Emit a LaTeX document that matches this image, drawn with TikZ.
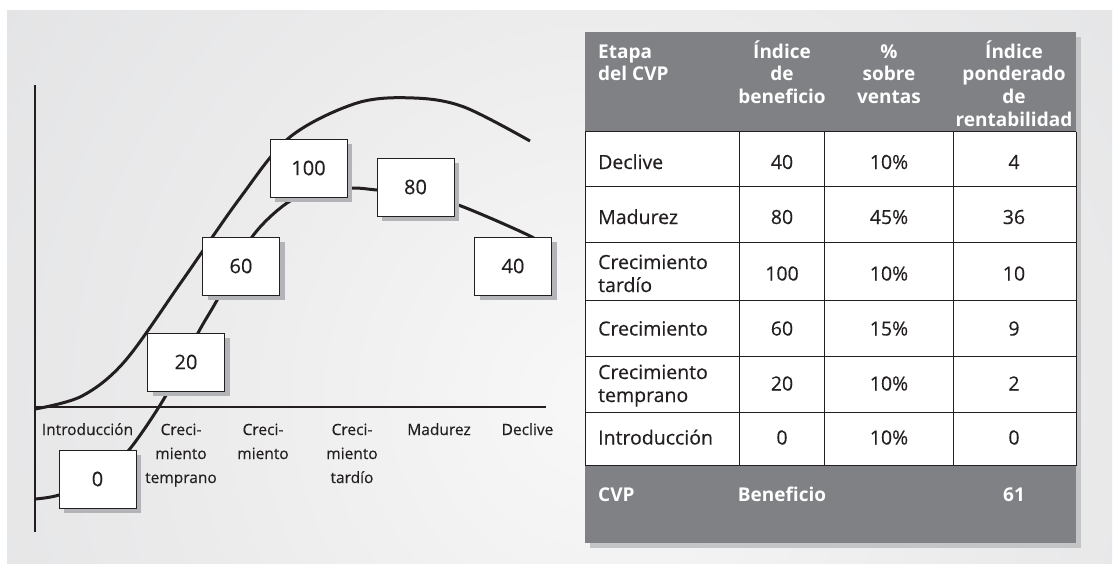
\documentclass[tikz,border=0pt]{standalone}
\usepackage{fontspec}
\setmainfont{Open Sans}
\newfontfamily\regfont{Open Sans}[FakeBold=0.35]
\usetikzlibrary{shadows}
\definecolor{panelgray}{HTML}{DBDCDE}
\definecolor{panellight}{HTML}{F8F8F8}
\definecolor{panelmid}{HTML}{EBEBEC}
\definecolor{tabgray}{HTML}{808184}
\definecolor{tabshadow}{HTML}{C4C5C7}
\definecolor{boxshadow}{HTML}{B3B4B7}
\definecolor{ink}{HTML}{231F20}
\pgfdeclareradialshading{bgshade}{\pgfpoint{0bp}{0bp}}{color(0bp)=(panellight); color(12bp)=(panelmid); color(30bp)=(panelgray); color(50bp)=(panelgray)}
\newcommand\mlc[1]{\begin{tabular}[t]{@{}c@{}}#1\end{tabular}}
\newcommand\mll[1]{\begin{tabular}[t]{@{}l@{}}#1\end{tabular}}
\tikzset{
  valbox/.style={draw=ink, line width=0.9pt, fill=white, minimum width=77pt, minimum height=58pt, inner sep=0pt,
    font=\regfont\fontsize{20}{24}\selectfont, text=ink,
    drop shadow={shadow xshift=5pt, shadow yshift=-5pt, fill=boxshadow, opacity=1}},
  curveline/.style={line width=3pt, draw=ink},
  axisline/.style={line width=1.3pt, draw=ink},
  axlabel/.style={font=\regfont\fontsize{15.5}{24}\selectfont, text=ink, anchor=base, inner sep=0pt},
  cell/.style={font=\regfont\fontsize{19.5}{23}\selectfont, text=ink, inner sep=0pt},
  hcell/.style={font=\fontsize{19}{22.7}\selectfont\bfseries, text=white, inner sep=0pt},
  gridline/.style={draw=ink, line width=1pt}
}
\begin{document}
\begin{tikzpicture}[x=1pt,y=-1pt]
\useasboundingbox (0,0) rectangle (1114,563);
\fill[white] (0,0) rectangle (1114,563);
% panel background
\begin{scope}
  \clip (7,10) rectangle (1112,563);
  \fill[panelgray] (7,10) rectangle (1112,563);
  \shade[shading=bgshade] (600,400) circle (880);
\end{scope}

% axes
\coordinate (ytop) at (35,85);
\coordinate (ybot) at (35,532);
\coordinate (xend) at (546,407);
\coordinate (orig) at (35,407);
\draw[axisline] (ytop) -- (ybot);
\draw[axisline] (orig) -- (xend);

% upper curve
\draw[curveline] plot[smooth, tension=0.55] coordinates
  {(35,409) (82,396) (125,361) (182,281) (240,198) (290,137) (357,103) (414,98) (464,107) (530,141)};

% lower connector curve
\draw[curveline] plot[smooth, tension=0.5] coordinates
  {(35,499) (59,495) (98,478) (129,450) (165,397) (198,333) (216,302) (252,237) (287,203) (320,190) (354,188) (377,190) (415,193) (461,206) (532,237) (545,250)};

% value boxes
\node[valbox] (b100) at (308.5,168) {100};
\node[valbox] (b80) at (415.5,187) {80};
\node[valbox] (b60) at (241,266) {60};
\node[valbox] (b40) at (513,266) {40};
\node[valbox] (b20) at (186,362) {20};
\node[valbox] (b0) at (97.5,479) {0};

% axis labels
\node[axlabel] (l1) at (87.5,435) {Introducción};
\node[axlabel] (l2) at (181,435) {\mlc{Creci-\\miento\\temprano}};
\node[axlabel] (l3) at (263,435) {\mlc{Creci-\\miento}};
\node[axlabel] (l4) at (352,435) {\mlc{Creci-\\miento\\tardío}};
\node[axlabel] (l5) at (439,435) {Madurez};
\node[axlabel] (l6) at (527.5,435) {Declive};

% table
\fill[tabshadow] (590,37) rectangle (1081,548);
\fill[tabgray] (585,32) rectangle (1076,543);
\fill[white] (585,131.7) rectangle (1076,465.7);
\foreach \yy in {131.7,186.7,242.7,300.7,356.7,412.3,465.7}
  \draw[gridline] (585,\yy) -- (1076,\yy);
\foreach \xx in {585,739.4,824.5,953.3,1076}
  \draw[gridline] (\xx,131.7) -- (\xx,465.7);

% header
\node[hcell, anchor=base west] (h1) at (598,58) {\mll{Etapa\\del CVP}};
\node[hcell, anchor=base] (h2) at (782,58) {\mlc{Índice\\de\\beneficio}};
\node[hcell, anchor=base] (h3) at (889,58) {\mlc{\%\\sobre\\ventas}};
\node[hcell, anchor=base] (h4) at (1014,58) {\mlc{Índice\\ponderado\\de\\rentabilidad}};

% rows
\node[cell, anchor=base west] (r1a) at (598,169) {Declive};
\node[cell, anchor=base] (r1b) at (782,169) {40};
\node[cell, anchor=base] (r1c) at (889,169) {10\%};
\node[cell, anchor=base] (r1d) at (1014,169) {4};

\node[cell, anchor=base west] (r2a) at (598,224) {Madurez};
\node[cell, anchor=base] (r2b) at (782,224) {80};
\node[cell, anchor=base] (r2c) at (889,224) {45\%};
\node[cell, anchor=base] (r2d) at (1014,224) {36};

\node[cell, anchor=base west] (r3a) at (598,269) {\mll{Crecimiento\\tardío}};
\node[cell, anchor=base] (r3b) at (782,280.5) {100};
\node[cell, anchor=base] (r3c) at (889,280.5) {10\%};
\node[cell, anchor=base] (r3d) at (1014,280.5) {10};

\node[cell, anchor=base west] (r4a) at (598,335.5) {Crecimiento};
\node[cell, anchor=base] (r4b) at (782,335.5) {60};
\node[cell, anchor=base] (r4c) at (889,335.5) {15\%};
\node[cell, anchor=base] (r4d) at (1014,335.5) {9};

\node[cell, anchor=base west] (r5a) at (598,379) {\mll{Crecimiento\\temprano}};
\node[cell, anchor=base] (r5b) at (782,390.5) {20};
\node[cell, anchor=base] (r5c) at (889,390.5) {10\%};
\node[cell, anchor=base] (r5d) at (1014,390.5) {2};

\node[cell, anchor=base west] (r6a) at (598,444.5) {Introducción};
\node[cell, anchor=base] (r6b) at (782,444.5) {0};
\node[cell, anchor=base] (r6c) at (889,444.5) {10\%};
\node[cell, anchor=base] (r6d) at (1014,444.5) {0};

% footer
\node[hcell, anchor=base west] (f1) at (598,501) {CVP};
\node[hcell, anchor=base] (f2) at (782,501) {Beneficio};
\node[hcell, anchor=base] (f4) at (1014,501) {61};
\end{tikzpicture}
\end{document}
